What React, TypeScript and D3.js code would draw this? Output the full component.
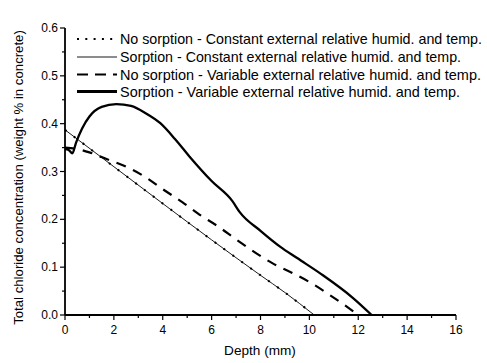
import React from "react";
import * as d3 from "d3";

const xTicks = [0, 2, 4, 6, 8, 10, 12, 14, 16];
const yTicks = [0.0, 0.1, 0.2, 0.3, 0.4, 0.5, 0.6];

const legendLabels = [
  "No sorption - Constant external relative humid. and temp.",
  "Sorption - Constant external relative humid. and temp.",
  "No sorption - Variable external relative humid. and temp.",
  "Sorption - Variable external relative humid. and temp.",
];

// No sorption - Constant
const noSorpConstX = [0, 2, 4, 6, 8, 9, 10.1];
const noSorpConstY = [0.387, 0.31, 0.233, 0.157, 0.083, 0.047, 0.004];
// Sorption - Constant
const sorpConstX = [0, 2, 4, 6, 8, 9, 10.2];
const sorpConstY = [0.387, 0.31, 0.233, 0.157, 0.083, 0.047, 0.0];
// No sorption - Variable
const noSorpVarX = [0, 0.5, 1, 1.7, 2.5, 3.3, 4, 4.8, 5.5, 6.3, 7, 7.8, 8.5, 9.3, 10.1, 10.8, 11.6, 12.0];
const noSorpVarY = [0.35, 0.347, 0.34, 0.326, 0.31, 0.288, 0.263, 0.236, 0.21, 0.184, 0.158, 0.13, 0.108, 0.088, 0.066, 0.043, 0.015, 0.0];
// Sorption - Variable
const sorpVarX = [0, 0.15, 0.3, 0.45, 0.7, 1.0, 1.5, 2.1, 2.7, 3.3, 3.9, 4.5, 5.1, 6.0, 6.85, 7.15, 8.0, 8.8, 9.5, 10.5, 11.8, 12.55];
const sorpVarY = [0.347, 0.345, 0.338, 0.36, 0.39, 0.415, 0.435, 0.441, 0.437, 0.422, 0.401, 0.368, 0.331, 0.28, 0.238, 0.215, 0.176, 0.143, 0.119, 0.085, 0.035, 0.0];

const W = 487;
const H = 363;
const left = 65;
const right = 456;
const top = 28;
const bottom = 315;

const FONT = "Liberation Sans, Arial, sans-serif";

export default function App() {
  const x = d3.scaleLinear().domain([0, 16]).range([left, right]);
  const y = d3.scaleLinear().domain([0, 0.6]).range([bottom, top]);
  const line = d3
    .line<[number, number]>()
    .x((d) => x(d[0]))
    .y((d) => y(d[1]))
    .curve(d3.curveMonotoneX);
  const zip = (a: number[], b: number[]) => a.map((v, i) => [v, b[i]] as [number, number]);

  const series = [
    { d: zip(noSorpConstX, noSorpConstY), w: 2, dash: "2,9" },
    { d: zip(sorpConstX, sorpConstY), w: 0.9, dash: "" },
    { d: zip(noSorpVarX, noSorpVarY), w: 2.2, dash: "10,8" },
    { d: zip(sorpVarX, sorpVarY), w: 2.3, dash: "" },
  ];
  const legendDash = ["2,6.3", "", "11,7", ""];
  const legendWidths = [362, 341, 361, 340];

  const xMinor = d3.range(1, 16, 2);
  const yMinor = d3.range(0.05, 0.6, 0.1);
  const legendY = [39, 57, 74.5, 91.5];

  return (
    <svg width={W} height={H} style={{ position: "absolute", left: 0, top: 0, background: "#fff" }}>
      <rect width={W} height={H} fill="#fff" />
      {series.map((s, i) => (
        <path
          key={i}
          d={line(s.d) || ""}
          fill="none"
          stroke="#000"
          strokeWidth={s.w}
          strokeDasharray={s.dash || undefined}
          strokeLinejoin="round"
        />
      ))}
      {/* axes */}
      <line x1={left} x2={left} y1={top} y2={bottom} stroke="#000" strokeWidth={1.8} />
      <line x1={left} x2={right} y1={bottom} y2={bottom} stroke="#000" strokeWidth={1.8} />
      {xTicks.map((t) => (
        <g key={"x" + t}>
          <line x1={x(t)} x2={x(t)} y1={bottom} y2={bottom + 5} stroke="#000" strokeWidth={1.2} />
          <text x={x(t)} y={bottom + 19} textAnchor="middle" fontSize={12} fontFamily={FONT}>
            {t}
          </text>
        </g>
      ))}
      {xMinor.map((t) => (
        <line key={"xm" + t} x1={x(t)} x2={x(t)} y1={bottom} y2={bottom + 3} stroke="#000" strokeWidth={1.2} />
      ))}
      {yTicks.map((t) => (
        <g key={"y" + t}>
          <line x1={left - 5} x2={left} y1={y(t)} y2={y(t)} stroke="#000" strokeWidth={1.2} />
          <text x={left - 7} y={y(t) + 4} textAnchor="end" fontSize={12} fontFamily={FONT}>
            {t.toFixed(1)}
          </text>
        </g>
      ))}
      {yMinor.map((t) => (
        <line key={"ym" + t} x1={left - 3} x2={left} y1={y(t)} y2={y(t)} stroke="#000" strokeWidth={1.2} />
      ))}
      <text x={260} y={355} textAnchor="middle" fontSize={13.6} fontFamily={FONT}>
        Depth (mm)
      </text>
      <text
        transform={`translate(23, ${(top + bottom) / 2 + 6}) rotate(-90)`}
        textAnchor="middle"
        fontSize={13.2}
        fontFamily={FONT}
      >
        Total chloride concentration (weight % in concrete)
      </text>
      {/* legend */}
      {legendLabels.map((lab, i) => (
        <g key={lab}>
          <line
            x1={77}
            x2={117}
            y1={legendY[i]}
            y2={legendY[i]}
            stroke="#000"
            strokeWidth={i === 3 ? 2.8 : series[i].w}
            strokeDasharray={legendDash[i] || undefined}
          />
          <text
            x={120}
            y={legendY[i] + 5}
            fontSize={14.2}
            fontFamily={FONT}
            textLength={legendWidths[i]}
            lengthAdjust="spacingAndGlyphs"
          >
            {lab}
          </text>
        </g>
      ))}
    </svg>
  );
}
